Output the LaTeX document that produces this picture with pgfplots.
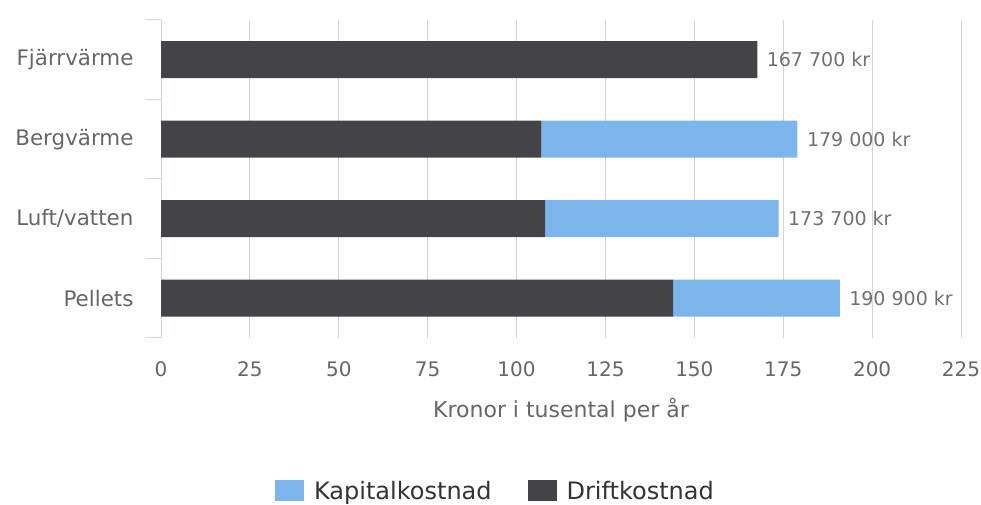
\documentclass[border=0pt]{standalone}
\usepackage{fontspec}
\setmainfont{DejaVu Sans}
\usepackage{pgfplots}
\usepackage{pgfplotstable}
\pgfplotsset{compat=1.18}
\definecolor{drift}{HTML}{434348}
\definecolor{kap}{HTML}{7CB5EC}
\definecolor{gridc}{HTML}{D4D4D4}
\definecolor{axc}{HTML}{CCD6EB}
\definecolor{lab}{HTML}{666666}
\definecolor{vlab}{HTML}{707070}
\definecolor{leg}{HTML}{333333}

\pgfplotstableread{
y drift kap total label
3 167.7 0 167.7 {167 700 kr}
2 107.0 72.0 179.0 {179 000 kr}
1 108.0 65.7 173.7 {173 700 kr}
0 144.0 46.9 190.9 {190 900 kr}
}\data

\begin{document}
\begin{tikzpicture}
\useasboundingbox (0,0) rectangle (981pt,505pt);
\begin{axis}[
  at={(161pt,167pt)}, anchor=south west,
  scale only axis, width=800pt, height=318pt,
  xbar stacked, bar width=37pt,
  xmin=0, xmax=225, ymin=-0.5, ymax=3.5,
  xtick={0,25,...,225},
  ytick={0,1,2,3},
  yticklabels={Pellets,Luft/vatten,Bergvärme,Fjärrvärme},
  axis lines*=left,
  y axis line style={draw=axc, line width=1pt},
  x axis line style={draw=none},
  xmajorgrids, grid style={gridc, line width=1pt},
  major tick length=0pt,
  xtick style={draw=none},
  ytick style={draw=axc, line width=1pt},
  extra y ticks={-0.5,0.5,1.5,2.5,3.5},
  extra y tick labels={},
  extra y tick style={major tick length=15pt, tick align=outside, ymajorgrids=false},
  /pgf/number format/assume math mode=true,
  xticklabel style={font=\fontsize{20}{24}\selectfont, text=lab, yshift=-20pt},
  yticklabel style={font=\fontsize{21.4}{25}\selectfont, text=lab, xshift=-24pt},
  xlabel={Kronor i tusental per år},
  xlabel style={at={(axis description cs:0.5,-0.2264)}, anchor=center, font=\fontsize{22}{26}\selectfont, text=lab},
  reverse legend,
  legend columns=-1,
  legend style={at={(0.4175,-0.480)}, anchor=center, draw=none, fill=none,
    font=\fontsize{24}{28}\selectfont, text=leg, inner sep=0pt,
    nodes={inner sep=1pt},
    /tikz/every odd column/.append style={column sep=9pt},
    /tikz/every even column/.append style={column sep=35pt}},
  legend image code/.code={\fill[#1] (0pt,-10.5pt) rectangle (29pt,10.5pt);},
]
\addplot[fill=drift, draw=none] table[x=drift, y=y]{\data};
\addlegendentry{Driftkostnad}
\addplot[fill=kap, draw=none] table[x=kap, y=y]{\data};
\addlegendentry{Kapitalkostnad}
\end{axis}
\begin{axis}[
  at={(161pt,167pt)}, anchor=south west,
  scale only axis, width=800pt, height=318pt,
  xmin=0, xmax=225, ymin=-0.5, ymax=3.5,
  hide axis,
]
\addplot[draw=none, mark=none, nodes near coords, point meta=explicit symbolic,
  nodes near coords style={font=\fontsize{19}{22}\selectfont, text=vlab, anchor=west, xshift=6pt}]
  table[x=total, y=y, meta=label]{\data};
\end{axis}
\end{tikzpicture}
\end{document}
